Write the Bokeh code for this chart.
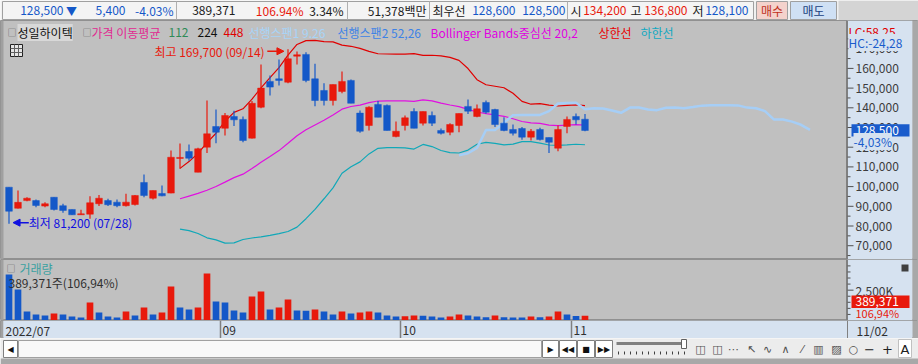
import numpy as np
import pandas as pd
from bokeh.plotting import figure
from bokeh.layouts import column
from bokeh.models import Range1d, ColumnDataSource, Label, Arrow, NormalHead
from bokeh.core.properties import value
from bokeh.embed import file_html
from bokeh.resources import INLINE

# ---------------- data ----------------
stock_name = "성일하이텍"
dates = ["2022/07/28", "2022/07/29",
         "2022/08/01", "2022/08/02", "2022/08/03", "2022/08/04", "2022/08/05",
         "2022/08/08", "2022/08/09", "2022/08/10", "2022/08/11", "2022/08/12",
         "2022/08/16", "2022/08/17", "2022/08/18", "2022/08/19",
         "2022/08/22", "2022/08/23", "2022/08/24", "2022/08/25", "2022/08/26",
         "2022/08/29", "2022/08/30", "2022/08/31",
         "2022/09/01", "2022/09/02", "2022/09/05", "2022/09/06", "2022/09/07", "2022/09/08",
         "2022/09/13", "2022/09/14", "2022/09/15", "2022/09/16",
         "2022/09/19", "2022/09/20", "2022/09/21", "2022/09/22", "2022/09/23",
         "2022/09/26", "2022/09/27", "2022/09/28", "2022/09/29", "2022/09/30",
         "2022/10/04", "2022/10/05", "2022/10/06", "2022/10/07",
         "2022/10/11", "2022/10/12", "2022/10/13", "2022/10/14",
         "2022/10/17", "2022/10/18", "2022/10/19", "2022/10/20", "2022/10/21",
         "2022/10/24", "2022/10/25", "2022/10/26", "2022/10/27", "2022/10/28",
         "2022/10/31", "2022/11/01", "2022/11/02"]
opens = [99700, 89000, 92900, 92900, 90100, 94600, 90300, 88400, 85700, 86000,
         91300, 92900, 92100, 90300, 90900, 102100, 94100, 96500, 96700, 114300,
         117800, 107300, 120000, 130500, 129600, 135600, 134100, 124600, 140300, 153400,
         154700, 153000, 166200, 167100, 154700, 148800, 143700, 148300, 153900, 137300,
         131000, 141700, 141200, 125400, 131000, 138100, 132200, 136100, 128500, 127600,
         131000, 140700, 135600, 142700, 139100, 132200, 129000, 129500, 125100, 129000,
         124900, 119500, 130500, 135600, 134200]
highs = [99700, 98000, 94600, 93500, 92100, 94600, 91300, 88400, 88200, 95100,
         95800, 93800, 93500, 96400, 95800, 106100, 98000, 100600, 118300, 121900,
         121400, 119700, 143700, 139100, 137300, 138500, 135600, 143400, 162000, 156400,
         164500, 169700, 168600, 168200, 162300, 152500, 151800, 158400, 154400, 138600,
         140800, 143400, 141700, 133000, 136100, 139800, 138100, 138100, 129500, 132200,
         137100, 144200, 141700, 143700, 139500, 135200, 131500, 130200, 129300, 129900,
         124900, 131000, 135600, 137100, 136800]
lows = [81200, 88900, 92600, 89500, 89500, 87900, 86700, 85600, 85700, 83700,
        90100, 90100, 89500, 89900, 90400, 94600, 93500, 95100, 96600, 109000,
        113100, 107300, 117000, 122000, 125900, 130700, 122500, 124400, 139800, 146200,
        151300, 152500, 162000, 153000, 140800, 141200, 141200, 147400, 142300, 127300,
        128500, 135200, 128500, 125100, 128500, 129600, 131000, 130700, 126500, 126100,
        127600, 136800, 135200, 137000, 130200, 128100, 125900, 123800, 123400, 123400,
        117000, 118000, 127100, 131500, 128100]
closes = [87500, 92000, 94100, 90400, 91300, 88400, 87900, 85700, 86200, 91800,
          94100, 90800, 90300, 92100, 95500, 95500, 98000, 95300, 114900, 114800,
          114400, 119200, 126800, 127600, 136100, 133900, 123400, 142300, 150000, 150500,
          153900, 164900, 166900, 153900, 143700, 143700, 151800, 153400, 142300, 128100,
          140300, 135200, 128500, 128100, 134900, 129600, 138100, 132200, 127100, 131500,
          137100, 138300, 139500, 137800, 131500, 128500, 127100, 125100, 128100, 123900,
          122500, 129000, 134100, 133900, 128500]
volumes = [3790000, 2554000, 742000, 494000, 412000, 577000, 494000, 330000, 247000, 1483000,
           659000, 330000, 247000, 742000, 412000, 1071000, 494000, 659000, 2802000, 1071000,
           906000, 1071000, 3873000, 1566000, 1483000, 824000, 659000, 1978000, 2390000, 906000,
           1071000, 1730000, 824000, 800000, 906000, 742000, 494000, 742000, 577000, 659000,
           742000, 659000, 412000, 330000, 340000, 412000, 400000, 330000, 247000, 330000,
           494000, 412000, 330000, 260000, 412000, 260000, 255000, 250000, 330000, 260000,
           330000, 742000, 494000, 364100, 389371]

price_ticks = [70000, 80000, 90000, 100000, 110000, 120000, 130000, 140000, 150000, 160000, 170000]
price_minor = [65000, 75000, 85000, 95000, 105000, 115000, 125000, 135000, 145000, 155000,
               165000, 175000]
vol_ticks = [2500000]
vol_minor = [500000, 1000000, 1500000, 2000000, 3000000, 3500000, 4000000, 4500000]
ma_periods = [112, 224, 448]
span1_params = (9, 26)
span2_params = (52, 26)
bb_params = (20, 2)
lc_value, hc_value = 58.25, -24.28
turnover_pct = 3.34
trade_value_mil = 51378
best_ask, best_bid = 128600, 128500

# ---------------- derived ----------------
n = len(closes)
idx = np.arange(n)
last, prev = closes[-1], closes[-2]
chg = last - prev
chg_pct = chg / prev * 100
vol_ratio = volumes[-1] / volumes[-2] * 100

cl = pd.Series(closes, dtype=float)
hi = pd.Series(highs, dtype=float)
lo = pd.Series(lows, dtype=float)
bb_mid = cl.rolling(bb_params[0]).mean()
bb_sd = cl.rolling(bb_params[0]).std(ddof=0)
bb_up = (bb_mid + bb_params[1] * bb_sd).to_numpy()
bb_dn = (bb_mid - bb_params[1] * bb_sd).to_numpy()
bb_mid = bb_mid.to_numpy()
conv = (hi.rolling(span1_params[0]).max() + lo.rolling(span1_params[0]).min()) / 2
base = (hi.rolling(span1_params[1]).max() + lo.rolling(span1_params[1]).min()) / 2
span1 = ((conv + base) / 2).to_numpy()
span1_x = idx + span1_params[1] - 1

# ---------------- style ----------------
KR = "Noto Sans CJK KR"
RED = "#e8190c"
BLUE = "#1458c8"
BG = "#c0c0c0"
PANEL = "#d6e2f0"
EDGE = "#a8a8a8"
W = 918


def X(xr):  # reference pixel column -> candle units
    return (xr - 8.5) / 9.0


def Y(yr):  # reference pixel row -> price
    return 140000 + (107.3 - yr) * 507.6


def V(yr):  # reference pixel row -> volume
    return (320 - yr) * 82400


def lab(fig, x, y, text, color, size=12, align="left", bg=None, baseline="middle", font=KR):
    l = Label(x=x, y=y, text=text, text_color=color, text_font_size=f"{size}px",
              text_align=align, text_baseline=baseline, text_font=font)
    if bg is not None:
        l.background_fill_color = bg
    fig.add_layout(l)
    return l


def base_fig(h, xr, yr, bg, outline="#909090"):
    f = figure(width=W, height=h, x_range=xr, y_range=yr, output_backend="svg",
               toolbar_location=None, min_border_left=0, min_border_right=0,
               min_border_top=0, min_border_bottom=0, background_fill_color=bg,
               border_fill_color=bg, x_axis_location=None, y_axis_location=None,
               outline_line_color=outline)
    f.grid.visible = False
    return f


def side_panels(fig, y0, y1):
    fig.quad(left=[X(0)], right=[X(3)], bottom=[y0], top=[y1], fill_color="#a0a0a0", line_color=None)
    fig.quad(left=[X(846.5)], right=[X(912)], bottom=[y0], top=[y1], fill_color=PANEL, line_color=None)
    fig.quad(left=[X(912)], right=[X(918)], bottom=[y0], top=[y1], fill_color=EDGE, line_color=None)
    fig.segment(x0=[X(846.5)], y0=[y0], x1=[X(846.5)], y1=[y1], line_color="#808080", line_width=2)


XR = Range1d(X(0), X(918))

# ---------------- header ----------------
hd = base_fig(20, Range1d(0, 918), Range1d(20, 0), "#f0f0f0", outline=None)
hd.quad(left=[2], right=[753], top=[1], bottom=[19], fill_color="#f4f4f4", line_color="#a0a0a0")
hd.quad(left=[838], right=[918], top=[0], bottom=[20], fill_color="#d4d4d4", line_color=None)
hd.segment(x0=[176, 347, 429, 567], y0=[1] * 4, x1=[176, 347, 429, 567], y1=[19] * 4,
           line_color="#b0b0b0")
hd.quad(left=[756, 790], right=[787, 836], top=[1, 1], bottom=[19, 19],
        fill_color=["#f4d2cc", "#cfe0f4"], line_color="#a0a0a0")
ty = 10
NS = 12
lab(hd, 63, ty, f"{last:,}", BLUE, size=NS, align="right")
lab(hd, 71, ty, "▼", BLUE, size=11, align="center")
lab(hd, 125, ty, f"{abs(chg):,}", BLUE, size=NS, align="right")
lab(hd, 173, ty, f"{chg_pct:.2f}%", BLUE, size=NS, align="right")
lab(hd, 235, ty, f"{volumes[-1]:,}", "#202020", size=NS, align="right")
lab(hd, 303, ty, f"{vol_ratio:.2f}%", RED, size=NS, align="right")
lab(hd, 343, ty, f"{turnover_pct:.2f}%", "#202020", size=NS, align="right")
lab(hd, 426, ty, f"{trade_value_mil:,}백만", "#202020", size=NS, align="right")
lab(hd, 432, ty, "최우선", "#202020", size=NS)
lab(hd, 515, ty, f"{best_ask:,}", BLUE, size=NS, align="right")
lab(hd, 565, ty, f"{best_bid:,}", BLUE, size=NS, align="right")
lab(hd, 570, ty, "시", "#202020", size=NS)
lab(hd, 626, ty, f"{opens[-1]:,}", RED, size=NS, align="right")
lab(hd, 630, ty, "고", "#202020", size=NS)
lab(hd, 687, ty, f"{highs[-1]:,}", RED, size=NS, align="right")
lab(hd, 692, ty, "저", "#202020", size=NS)
lab(hd, 748, ty, f"{lows[-1]:,}", BLUE, size=NS, align="right")
lab(hd, 771.5, ty, "매수", "#c03020", size=NS, align="center")
lab(hd, 813, ty, "매도", "#204080", size=NS, align="center")

# ---------------- main price chart ----------------
PY0, PY1 = Y(259), Y(20)
p = base_fig(239, XR, Range1d(PY0, PY1), BG)
side_panels(p, PY0, PY1)
up = np.array(closes) >= np.array(opens)
src = ColumnDataSource(dict(x=idx, h=highs, l=lows,
                            top=np.maximum(opens, closes), bot=np.minimum(opens, closes),
                            col=np.where(up, RED, BLUE)))
p.line(idx, bb_up, line_color="#e00000", line_width=1.2)
p.line(idx, bb_mid, line_color="#e010e0", line_width=1.2)
p.line(idx, bb_dn, line_color="#10a8b8", line_width=1.2)
p.line(span1_x, span1, line_color="#a6cef6", line_width=2.5)
p.segment(x0="x", y0="h", x1="x", y1="l", line_color="col", line_width=1.2, source=src)
p.vbar(x="x", width=0.74, top="top", bottom="bot", fill_color="col", line_color="col",
       line_width=0.5, source=src)

# price scale (right panel)
p.segment(x0=[X(847)] * len(price_ticks), y0=price_ticks, x1=[X(853)] * len(price_ticks),
          y1=price_ticks, line_color="#505050")
p.segment(x0=[X(847)] * len(price_minor), y0=price_minor, x1=[X(850)] * len(price_minor),
          y1=price_minor, line_color="#505050")
p.text(x=[X(855)] * len(price_ticks), y=price_ticks, text=[f"{t:,}" for t in price_ticks],
       text_font=value(KR), text_font_size="12px", text_color="#3c3c3c", text_baseline="middle")
lab(p, X(848), Y(31), f"LC:{lc_value:.2f}".replace(".", ","), "#e00000", bg=PANEL)
lab(p, X(848), Y(42), f"HC:{hc_value:.2f}".replace(".", ","), "#1a5ccc", bg=PANEL)
p.quad(left=[X(851)], right=[X(909)], top=[last + 3200], bottom=[last - 3100],
       fill_color="#1a5ccc", line_color=None)
p.text(x=[X(855)], y=[last], text=[f"{last:,}"], text_font=value(KR), text_font_size="12px",
       text_color="white", text_baseline="middle")
lab(p, X(853), Y(141), f"{chg_pct:.2f}%".replace(".", ","), "#1a5ccc", size=12, bg=PANEL)

# legend line at top
ly = Y(32)
lab(p, X(7), ly, "□", "#606060", size=9)
lab(p, X(17), ly, stock_name, "#101010", bg="#d8d8d8")
lab(p, X(82), ly, "□", "#606060", size=9)
lab(p, X(91), ly, "가격 이동평균", "#e02890")
lab(p, X(168), ly, f"{ma_periods[0]}", "#2e8b57")
lab(p, X(197), ly, f"{ma_periods[1]}", "#101010")
lab(p, X(223), ly, f"{ma_periods[2]}", "#e00000")
lab(p, X(248), ly, f"선행스팬1 {span1_params[0]}.{span1_params[1]}", "#a8d4f8")
lab(p, X(337), ly, f"선행스팬2 {span2_params[0]},{span2_params[1]}", "#3c82e6")
lab(p, X(430), ly, f"Bollinger Bands중심선 {bb_params[0]},{bb_params[1]}", "#e000e0")
lab(p, X(598), ly, "상한선", "#e80000")
lab(p, X(640), ly, "하한선", "#10a8c0")
# table icon
p.quad(left=[X(10)], right=[X(22)], top=[Y(44)], bottom=[Y(56)], fill_color="#e6e6e6",
       line_color="#202020")
p.segment(x0=[X(14), X(18)], y0=[Y(44)] * 2, x1=[X(14), X(18)], y1=[Y(56)] * 2,
          line_color="#606060")
p.segment(x0=[X(10)] * 2, y0=[Y(48), Y(52)], x1=[X(22)] * 2, y1=[Y(48), Y(52)],
          line_color="#606060")

# max / min annotations
imax = int(np.argmax(highs))
imin = int(np.argmin(lows))
ymax = highs[imax] - 1000
p.add_layout(Arrow(end=NormalHead(size=7, fill_color=RED, line_color=RED),
                   x_start=imax - 2.3, y_start=ymax, x_end=imax - 0.45, y_end=ymax,
                   line_color=RED, line_width=1.5))
lab(p, imax - 2.6, ymax, f"최고 {highs[imax]:,} ({dates[imax][5:]})", RED, align="right")
ymin = lows[imin] + 500
p.add_layout(Arrow(end=NormalHead(size=7, fill_color="#1010e0", line_color="#1010e0"),
                   x_start=imin + 2.2, y_start=ymin, x_end=imin + 0.45, y_end=ymin,
                   line_color="#1010e0", line_width=1.5))
lab(p, imin + 2.2, ymin, f"최저 {lows[imin]:,} ({dates[imin][5:]})", "#1010e0")

# ---------------- volume ----------------
VY1 = V(259)
v = base_fig(61, XR, Range1d(0, VY1), BG)
side_panels(v, 0, VY1)
vcol = [BLUE] + [RED if volumes[i] > volumes[i - 1] else BLUE for i in range(1, n)]
v.vbar(x=idx, top=volumes, width=0.74, fill_color=vcol, line_color=None)
v.segment(x0=[X(847)] * len(vol_ticks), y0=vol_ticks, x1=[X(853)] * len(vol_ticks),
          y1=vol_ticks, line_color="#505050")
v.segment(x0=[X(847)] * len(vol_minor), y0=vol_minor, x1=[X(850)] * len(vol_minor),
          y1=vol_minor, line_color="#505050")
v.text(x=[X(855)] * len(vol_ticks), y=vol_ticks, text=[f"{t // 1000:,}K" for t in vol_ticks],
       text_font=value(KR), text_font_size="12px", text_color="#3c3c3c", text_baseline="middle")
v.quad(left=[X(851)], right=[X(909)], top=[V(295)], bottom=[V(307.5)], fill_color="#e8190c",
       line_color=None)
v.text(x=[X(855)], y=[V(301)], text=[f"{volumes[-1]:,}"], text_font=value(KR),
       text_font_size="12px", text_color="white", text_baseline="middle")
v.text(x=[X(855)], y=[V(312.5)], text=[f"{vol_ratio:.2f}%".replace(".", ",")],
       text_font=value(KR), text_font_size="11px", text_color="#e8190c", text_baseline="middle")
v.quad(left=[X(901)], right=[X(908)], top=[V(264)], bottom=[V(271)], fill_color="#404040",
       line_color=None)
lab(v, X(6), V(268), "□", "#606060", size=9)
lab(v, X(19), V(268), "거래량", "#3aa0a0")
lab(v, X(8), V(282), f"{volumes[-1]:,}주({vol_ratio:.2f}%)".replace(".", ","), "#303030")

# ---------------- date axis ----------------
d = base_fig(18, XR, Range1d(0, 1), PANEL)
side_panels(d, 0, 1)
d.quad(left=[X(3)], right=[X(846.5)], bottom=[0], top=[1], fill_color=PANEL, line_color=None)
bounds, blabels = [], []
last_lab_x = X(0)
for i in range(1, n):
    if dates[i][5:7] != dates[i - 1][5:7] and (i - 0.5) - last_lab_x > 6:
        bounds.append(i - 0.5)
        blabels.append(dates[i][5:7])
        last_lab_x = i - 0.5
d.segment(x0=bounds, y0=[0] * len(bounds), x1=bounds, y1=[1] * len(bounds),
          line_color="#808080", line_width=1.5)
d.text(x=[X(5)] + [b + 0.22 for b in bounds] + [X(856)], y=[0.45] * (len(bounds) + 2),
       text=[dates[0][:7]] + blabels + [dates[-1][5:]], text_font=value(KR),
       text_font_size="12px", text_color="#303030", text_baseline="middle")

# ---------------- scroll / tool row ----------------
s = base_fig(26, Range1d(0, 918), Range1d(364, 338), "#ececec", outline=None)
s.quad(left=[0], right=[918], top=[358], bottom=[364], fill_color=EDGE, line_color=None)
s.quad(left=[18], right=[541], top=[340], bottom=[357], fill_color="#f8f8f8", line_color="#a0a0a0")
s.quad(left=[3, 542, 559, 577, 595], right=[17, 558, 576, 594, 612], top=[340] * 5,
       bottom=[357] * 5, fill_color="white", line_color="#808080")
for xx, t in [(10, "◀"), (550, "▶"), (567.5, "◀◀"), (585.5, "■"), (603.5, "▶▶")]:
    lab(s, xx, 348.5, t, "#101010", size=8, align="center", font="DejaVu Sans")
s.segment(x0=[616], y0=[343], x1=[683], y1=[343], line_color="#808080", line_width=3)
s.quad(left=[681], right=[686], top=[339], bottom=[348], fill_color="white", line_color="#606060")
tx = list(range(618, 686, 6))
s.segment(x0=tx, y0=[351] * len(tx), x1=tx, y1=[354] * len(tx), line_color="#404040")
s.quad(left=[898], right=[911], top=[339], bottom=[357], fill_color="white", line_color="#c0c0c0")
icons = [(700, "◫"), (717, "◫"), (733, "⋯"), (751, "↖"), (767, "∿"), (785, "∧"),
         (802, "⁄"), (818, "▥"), (836, "▨"), (853, "○"), (869, "−"), (887, "+"), (904.5, "A")]
for xx, t in icons:
    big = t in ("A", "−", "+")
    lab(s, xx, 348.5, t, "#202020" if big else "#505050", size=13 if big else 11,
        align="center", font="DejaVu Sans")

layout = column(hd, p, v, d, s, spacing=0)
open("out.html", "w").write(file_html(layout, INLINE))
